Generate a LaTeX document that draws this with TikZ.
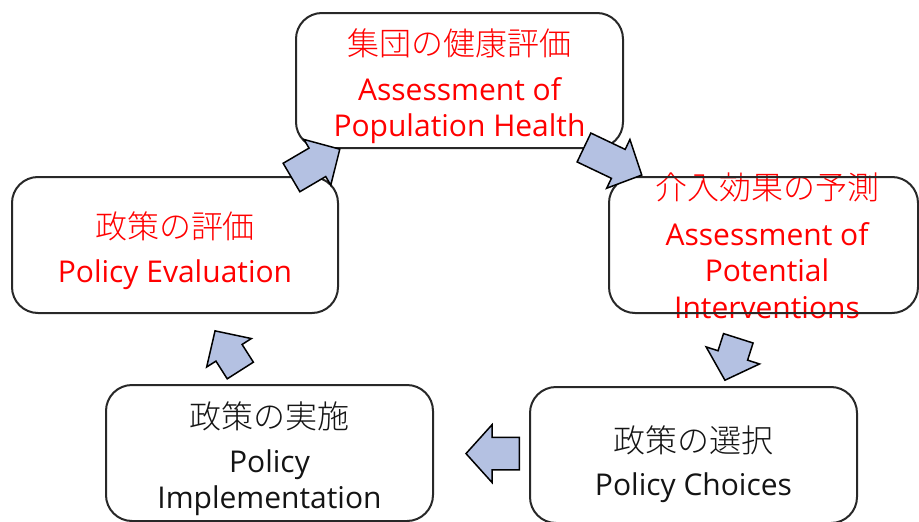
\documentclass[tikz,border=0pt]{standalone}
\usepackage{fontspec}
\setmainfont{Open Sans}
\newfontfamily\jpfont{Noto Sans CJK JP Light}
\definecolor{boxline}{RGB}{40,40,40}
\definecolor{txtred}{RGB}{255,0,0}
\definecolor{txtdark}{RGB}{20,20,20}
\definecolor{arrowfill}{RGB}{180,193,226}
% tail point, angle, length, shaft width, head width
\newcommand\bigarrow[5]{%
  \draw[arrowshape, shift={(#1)}, rotate=#2]
    (0,{-#4/2}) -- ({#3-26},{-#4/2}) -- ({#3-26},{-#5/2}) -- (#3,0)
    -- ({#3-26},{#5/2}) -- ({#3-26},{#4/2}) -- (0,{#4/2}) -- cycle;}
\begin{document}
\begin{tikzpicture}[x=1pt,y=-1pt,
  card/.style={draw=boxline, line width=2pt, rounded corners=26pt,
    inner sep=0pt, outer sep=0pt, minimum height=136pt},
  jp/.style={anchor=base, inner sep=0pt, font=\jpfont\fontsize{32}{36}\selectfont},
  en/.style={anchor=base, inner sep=0pt, font=\fontsize{30}{36}\selectfont},
  arrowshape/.style={draw=black, line width=1.5pt, fill=arrowfill, line join=miter}]
\useasboundingbox (0,0) rectangle (919,522);
\begin{scope}
\clip (0,0) rectangle (919,522);

% text of the five stages
\node[jp, txtred] (tjp) at (459.5,55) {集団の健康評価};
\node[en, txtred] (ten1) at (459.5,100) {Assessment of};
\node[en, txtred] (ten2) at (459.5,136) {Population Health};

\node[jp, txtred] (ljp) at (175,238) {政策の評価};
\node[en, txtred] (len1) at (175,282) {Policy Evaluation};

\node[jp, txtred] (rjp) at (767,199) {介入効果の予測};
\node[en, txtred] (ren1) at (767,245) {Assessment of};
\node[en, txtred] (ren2) at (767,281) {Potential};
\node[en, txtred] (ren3) at (767,318) {Interventions};

\node[jp, txtdark] (bljp) at (269.5,428) {政策の実施};
\node[en, txtdark] (blen1) at (269.5,472) {Policy};
\node[en, txtdark] (blen2) at (269.5,508) {Implementation};

\node[jp, txtdark] (brjp) at (693.5,452) {政策の選択};
\node[en, txtdark] (bren1) at (693.5,495) {Policy Choices};

% rounded stage boxes
\node[card, minimum width=327pt, minimum height=135pt] (top) at (459.5,80.5) {};
\node[card, minimum width=326pt] (left) at (175,245) {};
\node[card, minimum width=309pt] (right) at (763.5,245) {};
\node[card, minimum width=327pt] (botleft) at (269.5,453) {};
\node[card, minimum width=327pt] (botright) at (693.5,455) {};

% block arrows of the cycle
\bigarrow{291.5,177.5}{30.4}{56}{33}{53}
\bigarrow{584,147.5}{-25.5}{64}{32}{54}
\bigarrow{738.3,338.3}{-107.7}{44}{31}{56}
\bigarrow{519.3,453.6}{180}{53.3}{32.7}{57.7}
\bigarrow{240.3,370.5}{122.5}{47}{31}{53}
\end{scope}
\end{tikzpicture}
\end{document}
